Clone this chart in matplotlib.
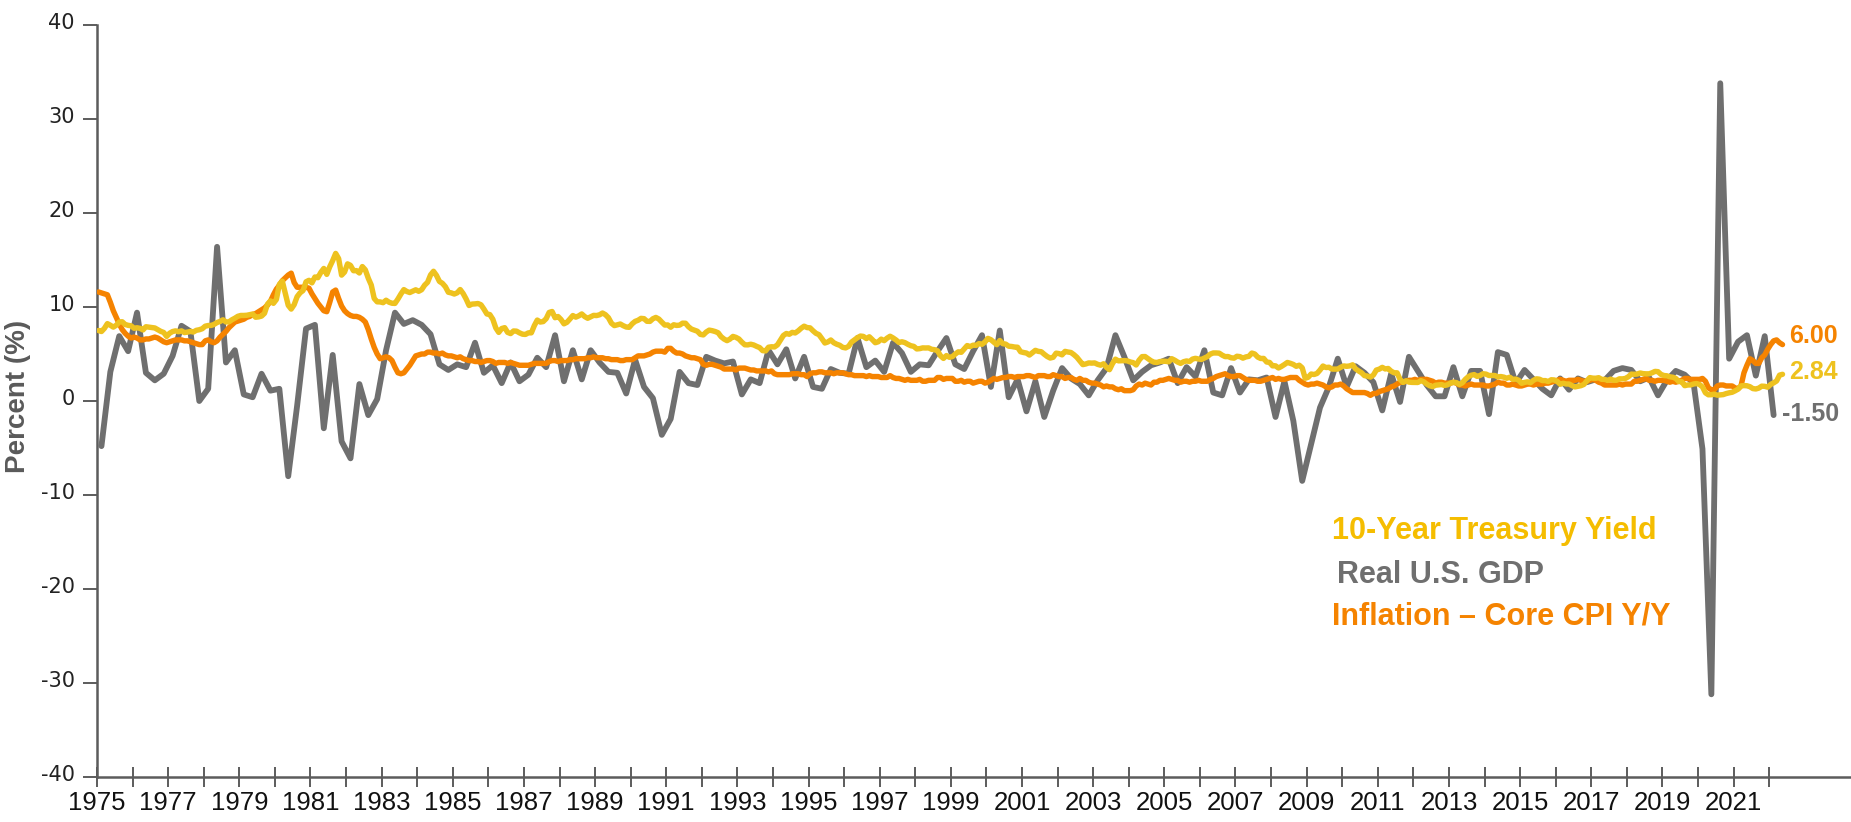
import matplotlib
matplotlib.use("Agg")
import matplotlib.pyplot as plt
from matplotlib import font_manager
from matplotlib import transforms
import numpy as np

# ---------------- data ----------------
# Real U.S. GDP, quarterly annualized % change, 1975Q1 .. 2022Q1
gdp_qoq = [
    -4.8, 3.1, 6.9, 5.3,   9.4, 3.0, 2.2, 2.9,   4.8, 8.0, 7.4, 0.0,
    1.3, 16.4, 4.1, 5.4,   0.7, 0.4, 2.9, 1.1,   1.3, -8.0, -0.5, 7.7,
    8.1, -2.9, 4.9, -4.3,  -6.1, 1.8, -1.5, 0.2,  5.4, 9.4, 8.2, 8.6,
    8.1, 7.1, 3.9, 3.3,    3.9, 3.6, 6.2, 3.0,   3.8, 1.9, 4.1, 2.1,
    2.8, 4.6, 3.6, 7.0,    2.1, 5.4, 2.3, 5.4,   4.1, 3.1, 3.0, 0.8,
    4.4, 1.5, 0.3, -3.6,   -1.9, 3.1, 1.9, 1.7,  4.7, 4.3, 4.0, 4.2,
    0.7, 2.3, 1.9, 5.4,    3.9, 5.5, 2.4, 4.7,   1.5, 1.3, 3.4, 3.0,
    2.9, 6.7, 3.6, 4.3,    3.1, 6.2, 5.1, 3.1,   3.9, 3.8, 5.3, 6.7,
    3.9, 3.4, 5.3, 7.0,    1.5, 7.5, 0.4, 2.3,   -1.1, 2.1, -1.7, 1.1,
    3.5, 2.4, 1.8, 0.6,    2.2, 3.5, 7.0, 4.7,   2.2, 3.1, 3.8, 4.1,
    4.5, 1.9, 3.6, 2.6,    5.4, 0.9, 0.6, 3.5,   0.9, 2.3, 2.2, 2.5,
    -1.7, 2.1, -2.1, -8.5, -4.6, -0.7, 1.5, 4.5, 1.5, 3.7, 3.0, 2.0,
    -1.0, 2.9, -0.1, 4.7,  3.2, 1.7, 0.5, 0.5,   3.6, 0.5, 3.2, 3.2,
    -1.4, 5.2, 4.9, 1.9,   3.3, 2.3, 1.3, 0.6,   2.4, 1.2, 2.4, 2.0,
    2.3, 2.2, 3.2, 3.5,    3.3, 2.1, 2.5, 0.6,   2.2, 3.2, 2.8, 1.9,
    -5.1, -31.2, 33.8, 4.5, 6.3, 7.0, 2.7, 6.9,  -1.5,
]

# Inflation - Core CPI Y/Y, monthly, Jan 1975 .. May 2022
core_cpi_yoy = [
    11.6, 11.5, 11.4, 11.3, 10.5, 9.6, 8.9, 8.2, 7.6, 7.2, 6.9, 6.7,
    6.8, 6.7, 6.5, 6.5, 6.6, 6.6, 6.7, 6.8, 6.7, 6.5, 6.3, 6.2,
    6.3, 6.4, 6.5, 6.5, 6.5, 6.4, 6.4, 6.3, 6.2, 6.1, 6.0, 6.0,
    6.4, 6.5, 6.3, 6.2, 6.4, 6.8, 7.1, 7.4, 7.8, 8.1, 8.4, 8.5,
    8.6, 8.7, 8.9, 9.0, 9.2, 9.3, 9.5, 9.7, 9.9, 10.2, 10.6, 11.3,
    11.9, 12.3, 12.8, 13.1, 13.4, 13.6, 12.6, 12.1, 12.1, 12.1, 12.1, 12.0,
    11.4, 10.9, 10.4, 10.0, 9.6, 9.5, 10.5, 11.6, 11.8, 10.9, 10.1, 9.6,
    9.3, 9.1, 9.0, 9.0, 8.9, 8.7, 8.4, 7.6, 6.6, 5.7, 5.0, 4.5,
    4.6, 4.7, 4.6, 4.3, 3.6, 3.0, 2.9, 3.0, 3.4, 3.8, 4.3, 4.8,
    4.9, 5.0, 5.0, 5.2, 5.2, 5.1, 5.1, 5.0, 5.1, 4.9, 4.8, 4.8,
    4.7, 4.6, 4.7, 4.5, 4.4, 4.3, 4.3, 4.2, 4.2, 4.1, 4.2, 4.3,
    4.3, 4.2, 4.0, 4.1, 4.1, 4.1, 4.0, 4.1, 4.0, 3.9, 3.8, 3.8,
    3.8, 3.8, 3.9, 4.0, 4.0, 4.0, 4.0, 4.0, 4.2, 4.3, 4.3, 4.2,
    4.3, 4.3, 4.3, 4.4, 4.4, 4.5, 4.5, 4.5, 4.5, 4.6, 4.6, 4.7,
    4.6, 4.6, 4.6, 4.5, 4.5, 4.4, 4.4, 4.4, 4.3, 4.3, 4.4, 4.4,
    4.4, 4.6, 4.8, 4.8, 4.8, 4.9, 5.0, 5.2, 5.3, 5.3, 5.3, 5.2,
    5.6, 5.6, 5.3, 5.1, 5.1, 5.0, 4.8, 4.7, 4.6, 4.6, 4.5, 4.4,
    3.9, 3.8, 3.9, 3.9, 3.8, 3.7, 3.6, 3.4, 3.4, 3.4, 3.4, 3.3,
    3.5, 3.5, 3.5, 3.4, 3.3, 3.3, 3.2, 3.2, 3.2, 3.2, 3.1, 3.2,
    2.9, 2.8, 2.8, 2.8, 2.8, 2.8, 2.9, 2.9, 2.9, 2.8, 2.8, 2.6,
    2.9, 3.0, 3.0, 3.1, 3.1, 3.0, 3.0, 3.0, 2.9, 3.0, 3.0, 3.0,
    2.9, 2.8, 2.8, 2.7, 2.7, 2.7, 2.7, 2.6, 2.7, 2.6, 2.6, 2.6,
    2.5, 2.5, 2.5, 2.7, 2.5, 2.4, 2.4, 2.3, 2.2, 2.3, 2.2, 2.2,
    2.2, 2.3, 2.1, 2.1, 2.2, 2.2, 2.2, 2.5, 2.5, 2.3, 2.4, 2.4,
    2.4, 2.1, 2.1, 2.2, 2.0, 2.1, 2.1, 1.9, 2.0, 2.1, 2.1, 1.9,
    2.0, 2.2, 2.4, 2.3, 2.4, 2.5, 2.5, 2.6, 2.6, 2.5, 2.6, 2.6,
    2.6, 2.7, 2.7, 2.6, 2.5, 2.7, 2.7, 2.7, 2.6, 2.6, 2.8, 2.7,
    2.6, 2.6, 2.4, 2.5, 2.5, 2.3, 2.2, 2.4, 2.2, 2.2, 2.0, 1.9,
    1.9, 1.8, 1.7, 1.5, 1.6, 1.5, 1.5, 1.3, 1.2, 1.3, 1.1, 1.1,
    1.1, 1.2, 1.6, 1.8, 1.7, 1.9, 1.8, 1.7, 2.0, 2.0, 2.2, 2.2,
    2.3, 2.4, 2.3, 2.2, 2.2, 2.0, 2.1, 2.1, 2.0, 2.1, 2.1, 2.2,
    2.1, 2.1, 2.1, 2.3, 2.4, 2.6, 2.7, 2.8, 2.9, 2.7, 2.6, 2.6,
    2.7, 2.7, 2.5, 2.3, 2.2, 2.2, 2.2, 2.1, 2.1, 2.2, 2.3, 2.4,
    2.5, 2.3, 2.4, 2.3, 2.3, 2.4, 2.5, 2.5, 2.5, 2.2, 2.0, 1.8,
    1.7, 1.8, 1.8, 1.9, 1.8, 1.7, 1.5, 1.4, 1.5, 1.7, 1.7, 1.8,
    1.6, 1.3, 1.1, 0.9, 0.9, 0.9, 0.9, 0.9, 0.8, 0.6, 0.8, 0.8,
    1.0, 1.1, 1.2, 1.3, 1.5, 1.6, 1.8, 2.0, 2.0, 2.1, 2.2, 2.2,
    2.3, 2.2, 2.3, 2.3, 2.3, 2.2, 2.1, 1.9, 2.0, 2.0, 1.9, 1.9,
    1.9, 2.0, 1.9, 1.7, 1.7, 1.6, 1.7, 1.8, 1.7, 1.7, 1.7, 1.7,
    1.6, 1.6, 1.7, 1.8, 2.0, 1.9, 1.9, 1.7, 1.7, 1.8, 1.7, 1.6,
    1.6, 1.7, 1.8, 1.8, 1.7, 1.8, 1.8, 1.8, 1.9, 1.9, 2.0, 2.1,
    2.2, 2.3, 2.2, 2.1, 2.2, 2.2, 2.2, 2.3, 2.2, 2.1, 2.1, 2.2,
    2.3, 2.2, 2.0, 1.9, 1.7, 1.7, 1.7, 1.7, 1.7, 1.8, 1.7, 1.8,
    1.8, 1.8, 2.1, 2.1, 2.2, 2.3, 2.4, 2.2, 2.2, 2.1, 2.2, 2.2,
    2.2, 2.1, 2.0, 2.1, 2.0, 2.1, 2.2, 2.4, 2.4, 2.3, 2.3, 2.3,
    2.3, 2.4, 2.1, 1.4, 1.2, 1.2, 1.6, 1.7, 1.7, 1.6, 1.6, 1.6,
    1.4, 1.3, 1.6, 3.0, 3.8, 4.5, 4.3, 4.0, 4.0, 4.6, 4.9, 5.5,
    6.0, 6.4, 6.5, 6.2, 6.0,
]

# 10-Year Treasury Yield, monthly, Jan 1975 .. May 2022
treasury_10y = [
    7.50, 7.39, 7.73, 8.23, 8.06, 7.86, 8.06, 8.40, 8.43, 8.14, 8.05, 8.00,
    7.74, 7.79, 7.73, 7.56, 7.90, 7.86, 7.83, 7.77, 7.59, 7.41, 7.29, 6.87,
    7.21, 7.39, 7.46, 7.37, 7.46, 7.28, 7.33, 7.40, 7.34, 7.52, 7.58, 7.69,
    7.96, 8.03, 8.04, 8.15, 8.35, 8.46, 8.64, 8.41, 8.42, 8.64, 8.81, 9.01,
    9.10, 9.10, 9.12, 9.18, 9.25, 8.91, 8.95, 9.03, 9.33, 10.30, 10.65, 10.39,
    10.80, 12.41, 12.75, 11.47, 10.18, 9.78, 10.25, 11.10, 11.51, 11.75, 12.68, 12.84,
    12.57, 13.19, 13.12, 13.68, 14.10, 13.47, 14.28, 14.94, 15.70, 15.15, 13.39, 13.72,
    14.59, 14.43, 13.86, 13.87, 13.62, 14.30, 13.95, 13.06, 12.34, 10.91, 10.55, 10.54,
    10.46, 10.72, 10.51, 10.40, 10.38, 10.85, 11.38, 11.85, 11.65, 11.54, 11.69, 11.83,
    11.67, 11.84, 12.32, 12.63, 13.41, 13.80, 13.36, 12.72, 12.52, 12.16, 11.57, 11.50,
    11.38, 11.51, 11.86, 11.43, 10.85, 10.16, 10.31, 10.33, 10.37, 10.24, 9.78, 9.26,
    9.19, 8.70, 7.78, 7.30, 7.71, 7.80, 7.30, 7.17, 7.45, 7.43, 7.25, 7.11,
    7.08, 7.25, 7.25, 8.02, 8.61, 8.40, 8.45, 8.76, 9.42, 9.52, 8.86, 8.99,
    8.67, 8.21, 8.37, 8.72, 9.09, 8.92, 9.06, 9.26, 8.98, 8.80, 8.96, 9.11,
    9.09, 9.17, 9.36, 9.18, 8.86, 8.28, 8.02, 8.11, 8.19, 8.01, 7.87, 7.84,
    8.21, 8.47, 8.59, 8.79, 8.76, 8.48, 8.47, 8.75, 8.89, 8.72, 8.39, 8.08,
    8.09, 7.85, 8.11, 8.04, 8.07, 8.28, 8.27, 7.90, 7.65, 7.53, 7.42, 7.09,
    7.03, 7.34, 7.54, 7.48, 7.39, 7.26, 6.84, 6.59, 6.42, 6.59, 6.87, 6.77,
    6.60, 6.26, 5.98, 5.97, 6.04, 5.96, 5.81, 5.68, 5.36, 5.33, 5.72, 5.77,
    5.75, 5.97, 6.48, 6.97, 7.18, 7.10, 7.30, 7.24, 7.46, 7.74, 7.96, 7.81,
    7.78, 7.47, 7.20, 7.06, 6.63, 6.17, 6.28, 6.49, 6.20, 6.04, 5.93, 5.71,
    5.65, 5.81, 6.27, 6.51, 6.74, 6.91, 6.87, 6.64, 6.83, 6.53, 6.20, 6.30,
    6.58, 6.42, 6.69, 6.89, 6.71, 6.49, 6.22, 6.30, 6.21, 6.03, 5.88, 5.81,
    5.54, 5.57, 5.65, 5.64, 5.65, 5.50, 5.46, 5.34, 4.81, 4.53, 4.83, 4.65,
    4.72, 5.00, 5.23, 5.18, 5.54, 5.90, 5.79, 5.94, 5.92, 6.11, 6.03, 6.28,
    6.66, 6.52, 6.26, 5.99, 6.44, 6.10, 6.05, 5.83, 5.80, 5.74, 5.72, 5.24,
    5.16, 5.10, 4.89, 5.14, 5.39, 5.28, 5.24, 4.97, 4.73, 4.57, 4.65, 5.09,
    5.04, 4.91, 5.28, 5.21, 5.16, 4.93, 4.65, 4.26, 3.87, 3.94, 4.05, 4.03,
    4.05, 3.90, 3.81, 3.96, 3.57, 3.33, 3.98, 4.45, 4.27, 4.29, 4.30, 4.27,
    4.15, 4.08, 3.83, 4.35, 4.72, 4.73, 4.50, 4.28, 4.13, 4.10, 4.19, 4.23,
    4.22, 4.17, 4.50, 4.34, 4.14, 4.00, 4.18, 4.26, 4.20, 4.46, 4.54, 4.47,
    4.42, 4.57, 4.72, 4.99, 5.11, 5.11, 5.09, 4.88, 4.72, 4.73, 4.60, 4.56,
    4.76, 4.72, 4.56, 4.69, 4.75, 5.10, 5.00, 4.67, 4.52, 4.53, 4.15, 4.10,
    3.74, 3.74, 3.51, 3.68, 3.88, 4.10, 4.01, 3.89, 3.69, 3.81, 3.53, 2.42,
    2.52, 2.87, 2.82, 2.93, 3.29, 3.72, 3.56, 3.59, 3.40, 3.39, 3.40, 3.59,
    3.73, 3.69, 3.73, 3.85, 3.42, 3.20, 3.01, 2.70, 2.65, 2.54, 2.76, 3.29,
    3.39, 3.58, 3.41, 3.46, 3.17, 3.00, 3.00, 2.30, 1.98, 2.15, 2.01, 1.98,
    1.97, 1.97, 2.17, 2.05, 1.80, 1.62, 1.53, 1.68, 1.72, 1.75, 1.65, 1.72,
    1.91, 1.98, 1.96, 1.76, 1.93, 2.30, 2.58, 2.74, 2.81, 2.62, 2.72, 2.90,
    2.86, 2.71, 2.72, 2.71, 2.56, 2.60, 2.54, 2.42, 2.53, 2.30, 2.33, 2.21,
    1.88, 1.98, 2.04, 1.94, 2.20, 2.36, 2.32, 2.17, 2.17, 2.07, 2.26, 2.24,
    2.09, 1.78, 1.89, 1.81, 1.81, 1.64, 1.50, 1.56, 1.63, 1.76, 2.14, 2.49,
    2.43, 2.42, 2.48, 2.30, 2.30, 2.19, 2.32, 2.21, 2.20, 2.36, 2.35, 2.40,
    2.58, 2.86, 2.84, 2.87, 2.98, 2.91, 2.89, 2.89, 3.00, 3.15, 3.12, 2.83,
    2.71, 2.68, 2.57, 2.53, 2.40, 2.07, 2.06, 1.63, 1.70, 1.71, 1.81, 1.86,
    1.76, 1.50, 0.87, 0.66, 0.67, 0.73, 0.62, 0.65, 0.68, 0.79, 0.87, 0.93,
    1.08, 1.26, 1.61, 1.64, 1.62, 1.52, 1.32, 1.28, 1.37, 1.58, 1.56, 1.47,
    1.76, 1.93, 2.13, 2.75, 2.84,
]

start_year = 1975
tick_years = list(range(1975, 2023))
tick_labels = [str(y) if (y - 1975) % 2 == 0 else "" for y in tick_years]
y_ticks = [-40, -30, -20, -10, 0, 10, 20, 30, 40]
legend_names = ["10-Year Treasury Yield", "Real U.S. GDP", "Inflation \u2013 Core CPI Y/Y"]

# ---------------- style ----------------
C_GDP = "#6f6f6f"
C_CPI = "#f58300"
C_UST = "#eec21f"
C_UST_TXT = "#f5bd00"
C_AXIS = "#5c5c5c"

names = {f.name for f in font_manager.fontManager.ttflist}
NARROW = "Liberation Sans Narrow" if "Liberation Sans Narrow" in names else "Liberation Sans"
plt.rcParams["font.family"] = ["Liberation Sans", "DejaVu Sans"]

W, H = 1851, 822
fig = plt.figure(figsize=(W / 100, H / 100), dpi=100)
ax = fig.add_axes([97 / W, 1 - 777 / H, 1 - 97 / W, (777 - 25) / H])

t_month = start_year + (np.arange(len(treasury_10y)) + 0.5) / 12.0
t_month_cpi = start_year + (np.arange(len(core_cpi_yoy)) + 0.5) / 12.0
t_quarter = start_year + np.arange(len(gdp_qoq)) / 4.0 + 0.125

ax.plot(t_quarter, gdp_qoq, color=C_GDP, lw=4.2, solid_joinstyle="round",
        solid_capstyle="round", zorder=2)
ax.plot(t_month_cpi, core_cpi_yoy, color=C_CPI, lw=3.9, solid_joinstyle="round",
        solid_capstyle="round", zorder=3)
ax.plot(t_month, treasury_10y, color=C_UST, lw=3.9, solid_joinstyle="round",
        solid_capstyle="round", zorder=4)

ax.set_xlim(1975, 2024.3)
ax.set_ylim(-40, 40)
ax.set_xticks(tick_years)
ax.set_xticklabels(tick_labels)
ax.set_yticks(y_ticks)
ax.set_yticklabels([str(v) for v in y_ticks])

for s in ("top", "right"):
    ax.spines[s].set_visible(False)
for s in ("left", "bottom"):
    ax.spines[s].set_color(C_AXIS)
    ax.spines[s].set_linewidth(1.8)

ax.tick_params(axis="x", direction="inout", length=14, width=1.4, color=C_AXIS,
               pad=3, labelsize=17, labelcolor="#111111")
ax.tick_params(axis="y", direction="out", length=10, width=1.4, color=C_AXIS,
               pad=6, labelsize=15, labelcolor="#222222")
for lab in ax.get_xticklabels():
    lab.set_family(NARROW)
    lab.set_fontsize(18.5)
shift_up = transforms.ScaledTranslation(0, 4 / 100, fig.dpi_scale_trans)
for lab in ax.get_yticklabels():
    lab.set_family(["DejaVu Sans"])
    lab.set_transform(lab.get_transform() + shift_up)

fig.text(18 / W, 1 - 396 / H, "Percent (%)", rotation=90, ha="center", va="center",
         fontsize=20, fontweight="bold", color="#5a5a5a", family=NARROW)

# legend texts
ax.text(0.704, 0.327, legend_names[0], transform=ax.transAxes, ha="left", va="center",
        fontsize=22, fontweight="bold", color=C_UST_TXT)
ax.text(0.707, 0.269, legend_names[1], transform=ax.transAxes, ha="left", va="center",
        fontsize=22, fontweight="bold", color=C_GDP)
ax.text(0.704, 0.214, legend_names[2], transform=ax.transAxes, ha="left", va="center",
        fontsize=22, fontweight="bold", color=C_CPI)

# end-of-series value labels
ax.annotate(f"{core_cpi_yoy[-1]:.2f}", (t_month_cpi[-1], core_cpi_yoy[-1]),
            xytext=(5, 6), textcoords="offset points", ha="left", va="center",
            fontsize=18, fontweight="bold", color=C_CPI)
ax.annotate(f"{treasury_10y[-1]:.2f}", (t_month[-1], treasury_10y[-1]),
            xytext=(5, 2), textcoords="offset points", ha="left", va="center",
            fontsize=18, fontweight="bold", color=C_UST)
ax.annotate(f"{gdp_qoq[-1]:.2f}", (t_quarter[-1], gdp_qoq[-1]),
            xytext=(6, 1), textcoords="offset points", ha="left", va="center",
            fontsize=18, fontweight="bold", color=C_GDP)

fig.savefig("out.png", dpi=100)
